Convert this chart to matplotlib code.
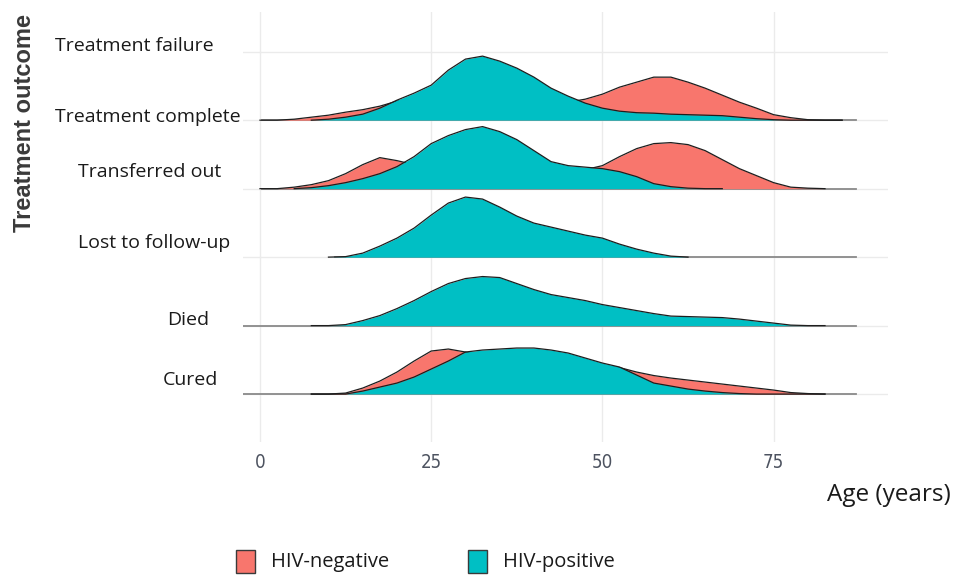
import numpy as np
import matplotlib
matplotlib.use("Agg")
import matplotlib.pyplot as plt
from matplotlib.patches import Rectangle
from matplotlib.transforms import blended_transform_factory

# age grid (years) at which ridge heights were read
ages = np.arange(0, 90, 2.5)

outcomes = ["Cured", "Died", "Lost to follow-up", "Transferred out",
            "Treatment complete", "Treatment failure"]
groups = ["HIV-negative", "HIV-positive"]
colors = ["#F8766D", "#00BFC4"]
xticks = [0, 25, 50, 75]

N = None
# ridge heights, HIV-negative / HIV-positive, one value per age in `ages`
cured_neg = [N, N, N, 0, 0, 1, 6, 13, 22, 33, 43, 45, 42, 38, 35, 33, 32, 31, 30, 29,
             28, 26.5, 22, 18.5, 16, 14, 12, 10, 8, 6, 4, 1.5, 0.5, 0, N, N]
cured_pos = [N, N, N, 0, 0, 0, 3, 7, 11, 17, 25, 33, 42, 44, 45, 46, 46, 44, 41, 36,
             31, 27, 19, 11, 8, 5, 3, 1.5, 0.5, 0, 0, 0, 0, 0, N, N]
died_neg = [N] * 36
died_pos = [N, N, N, 0, 0, 1, 5, 10, 17, 25, 34, 42, 47, 49, 48, 42, 36, 31, 28, 25,
            21, 18, 15, 12, 9.5, 9, 8.5, 8, 6.5, 4.5, 2.5, 0.5, 0, 0, N, N]
lost_neg = [N] * 36
lost_pos = [N, N, N, N, 0, 0.5, 4, 11, 19, 29, 42, 54, 60, 58, 50, 41, 34, 30, 26, 22,
            19, 13, 8, 4, 1, 0, N, N, N, N, N, N, N, N, N, N]
transfer_neg = [0, 0, 1.5, 4, 8, 15, 24, 31, 28, 24, 18, 13, 10, 9, 9, 10, 12, 14, 16, 19,
                23, 32, 40, 45, 46, 44, 38, 29, 20, 13, 6, 1.5, 0.5, 0, N, N]
transfer_pos = [N, N, 0, 1, 3, 6, 10, 15, 22, 32, 45, 53, 59, 62, 57, 49, 38, 27, 23, 21.5,
                20, 17, 12, 5, 2, 0.5, 0, 0, N, N, N, N, N, N, N, N]
complete_neg = [0, 0, 1, 3, 5, 8, 10.5, 14, 19, 22, 22, 20, 17, 15, 14, 14, 15, 16, 18, 21,
                26, 33, 38, 43, 43, 38, 32, 25, 18, 12, 5.5, 2.5, 0.5, 0, 0, N]
complete_pos = [N, N, N, 0, 1, 3, 6, 12, 20, 27, 35, 50, 61, 64, 59, 52, 43, 32, 24, 17,
                12, 9, 7.5, 7, 6, 5.5, 5, 4.5, 3, 1.5, 0.5, 0, 0, 0, 0, N]

rows = [(cured_neg, cured_pos), (died_neg, died_pos), (lost_neg, lost_pos),
        (transfer_neg, transfer_pos), (complete_neg, complete_pos)]
baseline_start = [-2.5, -2.5, 11, 0.3, 0.3]
baseline_end = 87

h_scale = 1 / 68.4  # ridge height -> fraction of row spacing

fig = plt.figure(figsize=(9.63, 5.77), dpi=100)
ax = fig.add_axes([243 / 963, 1 - 442 / 577, 645 / 963, 430 / 577])
ax.set_xlim(-2.48, 91.7)
ax.set_ylim(0.3, 6.58)

ax.set_xticks(xticks)
ax.set_yticks(range(1, len(outcomes) + 1))
ax.set_yticklabels([])
ax.grid(True, color="#EBEBEB", lw=1.0)
ax.set_axisbelow(True)
for s in ax.spines.values():
    s.set_visible(False)
ax.tick_params(length=0, pad=8)
for lab in ax.get_xticklabels():
    lab.set_family("DejaVu Sans")
    lab.set_stretch("condensed")
    lab.set_fontsize(13.5)
    lab.set_color("#4D5360")

n = len(rows)
for i in range(n - 1, -1, -1):
    level = i + 1
    z = 10 + (n - i) * 5
    ax.plot([baseline_start[i], baseline_end], [level, level], color="#8A8A8A",
            lw=1.3, zorder=z)
    for k in range(2):
        h = np.array(rows[i][k], dtype=float)
        y = level + h * h_scale
        ax.fill_between(ages, level, y, color=colors[k], lw=0, zorder=z + 1 + 2 * k)
        ax.plot(ages, y, color="#1E1E1E", lw=0.9, zorder=z + 1.5 + 2 * k)

# category labels
tr = blended_transform_factory(fig.transFigure, ax.transData)
label_pos = [(163, 0.2), (167, 0.08), (78, 0.2), (78, 0.25), (55, 0.04), (55, 0.09)]
for name, (px, dy), lvl in zip(outcomes, label_pos, range(1, 7)):
    ax.text(px / 963, lvl + dy, name, transform=tr, ha="left", va="center",
            fontsize=14, family="Open Sans", color="#1A1A1A", clip_on=False)

fig.text(25 / 963, 1 - 123 / 577, "Treatment outcome", rotation=90, ha="center",
         va="center", fontsize=17, family="Liberation Sans", weight="bold",
         color="#3A3A3A")
fig.text(889 / 963, 1 - 495 / 577, "Age (years)", ha="center", va="center",
         fontsize=17.5, family="Open Sans", color="#1A1A1A")

# legend
leg_x = [236, 468]
for k, g in enumerate(groups):
    fig.patches.append(Rectangle((leg_x[k] / 963, 1 - 573 / 577), 19 / 963, 23 / 577,
                                 transform=fig.transFigure, facecolor=colors[k],
                                 edgecolor="#3A3A3A", lw=1.0))
    fig.text((leg_x[k] + 35) / 963, 1 - 562 / 577, g, ha="left", va="center",
             fontsize=14.5, family="Open Sans", color="#1A1A1A")

fig.savefig("out.png", dpi=100)
